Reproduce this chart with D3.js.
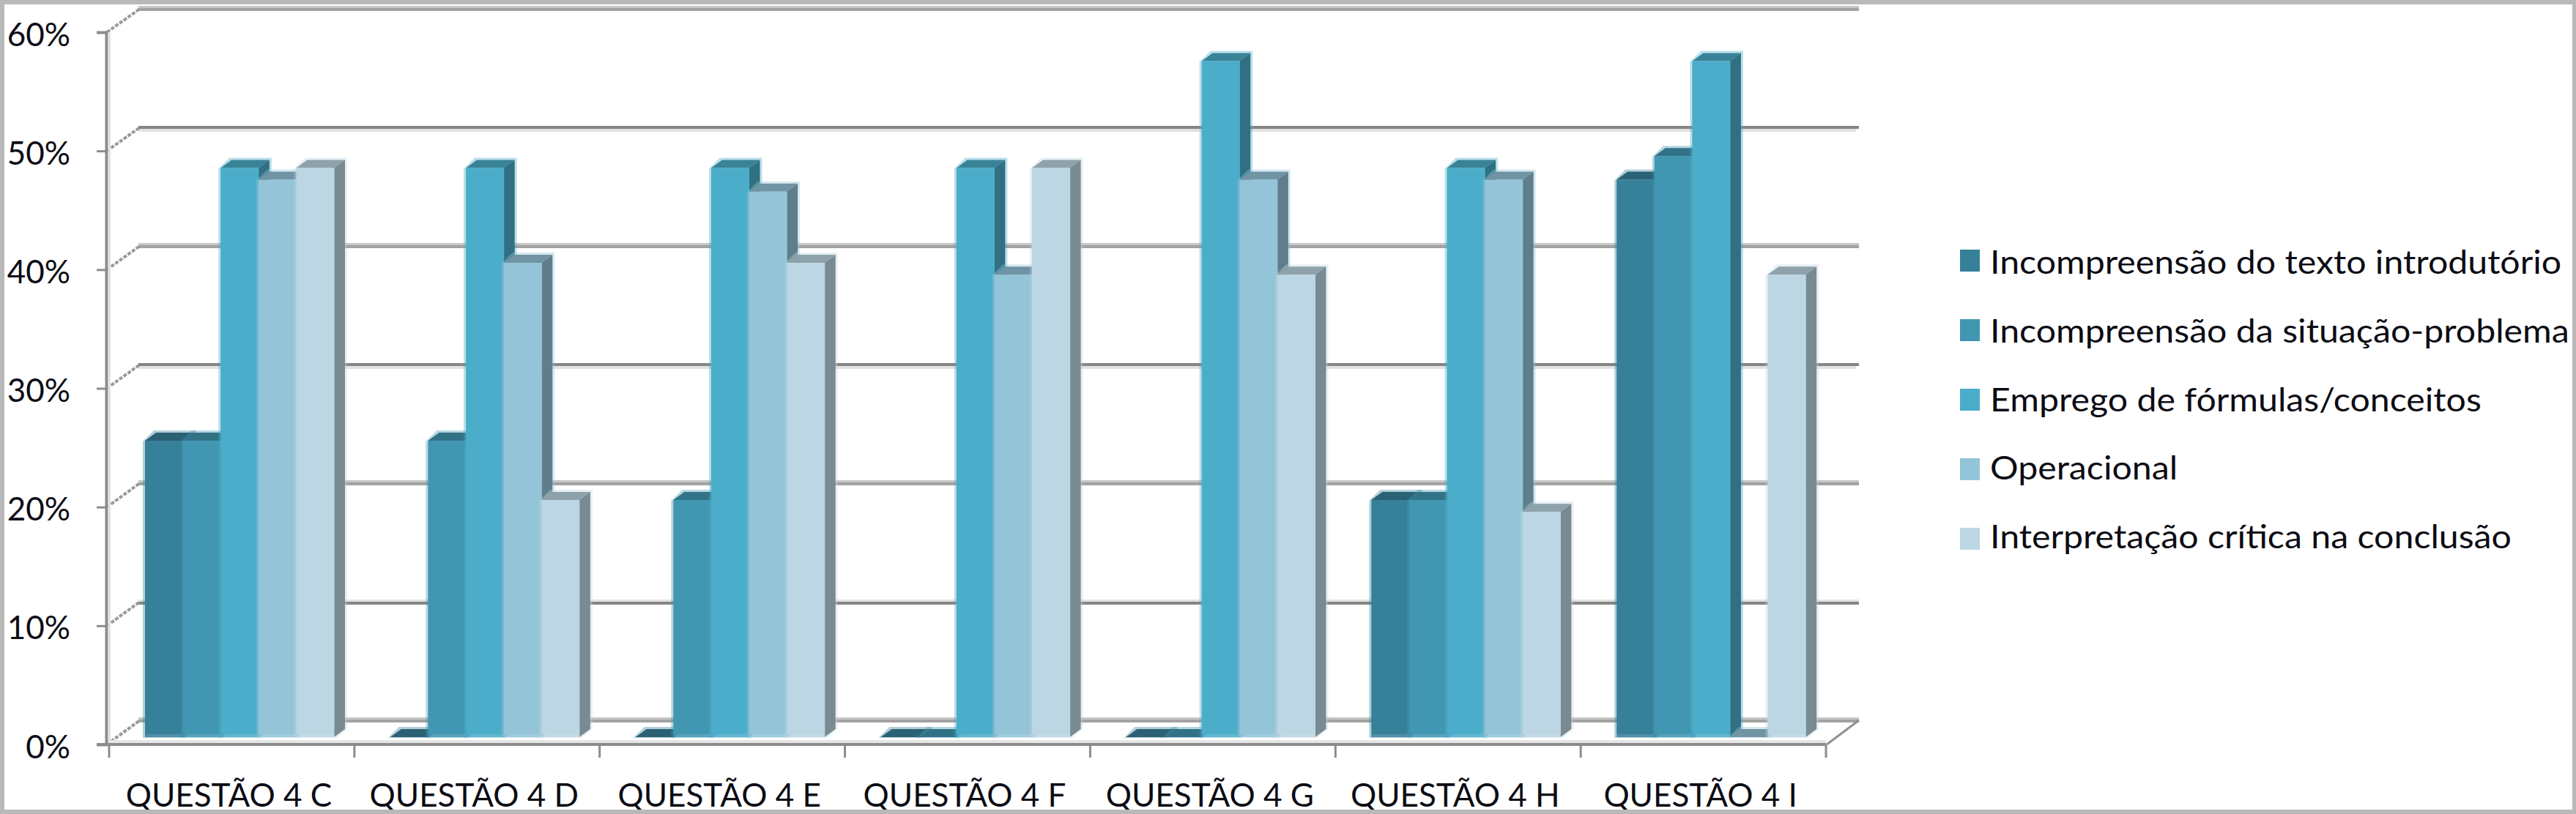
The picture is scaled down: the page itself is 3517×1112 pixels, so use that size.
<!DOCTYPE html>
<html><head><meta charset="utf-8">
<script src="https://cdn.jsdelivr.net/npm/d3@7/dist/d3.min.js"></script>
<style>html,body{margin:0;padding:0;background:#fff;overflow:hidden}svg{display:block}
text{font-family:Lato,"Open Sans",sans-serif;fill:#0c0c14}</style></head><body>
<svg id="c" width="3517" height="1112"></svg>
<script>
const categories = ["QUESTÃO 4 C","QUESTÃO 4 D","QUESTÃO 4 E","QUESTÃO 4 F","QUESTÃO 4 G","QUESTÃO 4 H","QUESTÃO 4 I"];
const seriesNames = ["Incompreensão do texto introdutório","Incompreensão da situação-problema","Emprego de fórmulas/conceitos","Operacional","Interpretação crítica na conclusão"];
const seriesColors = ["#37809a","#4197b2","#4badc9","#94c4d8","#bcd6e3"];
const s1 = [25,0,0,0,0,20,47];
const s2 = [25,25,20,0,0,20,49];
const s3 = [48,48,48,48,57,48,57];
const s4 = [47,40,46,39,47,47,0];
const s5 = [48,20,40,48,39,19,39];
const seriesValues = [s1,s2,s3,s4,s5];
const yTicks = [0,10,20,30,40,50,60];

const svg = d3.select("#c");
const W=3517,H=1112;
const frontX=[149,2493], frontY=[1017,44], backDx=45, backY=[984,12];
const yFront=d3.scaleLinear().domain([0,60]).range(frontY);
const yBack=d3.scaleLinear().domain([0,60]).range(backY);
const yBar=d3.scaleLinear().domain([0,60]).range([1007,35]);
const xCat=d3.scaleBand().domain(categories).range(frontX);
const barW=51.6, barOff=49, depthX=15, depthY=11, fringe=3;
const xSer=d3.scaleBand().domain(d3.range(5)).range([barOff,barOff+5*barW]);
const poly=(g,pts,fill,op)=>g.append("polygon").attr("points",pts.map(p=>p.join(",")).join(" ")).attr("fill",fill).attr("opacity",op==null?1:op);

// walls: grid lines on the back wall and the stippled side wall
const grid=svg.append("g");
yTicks.forEach(t=>{
  const y=yBack(t), x0=frontX[0]-4+backDx-1, x1=frontX[1]+backDx;
  if(t===10){
    grid.append("rect").attr("x",x0).attr("width",x1-x0).attr("y",y-3).attr("height",3).attr("fill","#e2e2e2");
    grid.append("rect").attr("x",x0).attr("width",x1-x0).attr("y",y).attr("height",4).attr("fill","#858585");
  } else if(t===30||t===50){
    grid.append("rect").attr("x",x0).attr("width",x1-x0).attr("y",y-2).attr("height",4).attr("fill","#858585");
    grid.append("rect").attr("x",x0).attr("width",x1-x0-4).attr("y",y+2).attr("height",4).attr("fill","#e2e2e2");
  } else {
    grid.append("rect").attr("x",x0).attr("width",x1-x0).attr("y",y-4).attr("height",3).attr("fill","#c6c6c6");
    grid.append("rect").attr("x",x0).attr("width",x1-x0).attr("y",y-1).attr("height",4).attr("fill","#a2a2a2");
  }
  grid.append("line").attr("x1",frontX[0]-3).attr("y1",yFront(t)).attr("x2",x0+2).attr("y2",y)
    .attr("stroke","#9a9a9a").attr("stroke-width",4).attr("stroke-dasharray","5 2");
});
// right floor edge
grid.append("line").attr("x1",frontX[1]+1).attr("y1",yFront(0)).attr("x2",frontX[1]+backDx).attr("y2",yBack(0)).attr("stroke","#8f8f8f").attr("stroke-width",3);

// floor front edge
svg.append("rect").attr("x",frontX[0]-2).attr("y",1011).attr("width",frontX[1]-frontX[0]+2).attr("height",5).attr("fill","#e6e6e6");

// bars
const bars=svg.append("g");
const mul=(c,k)=>{const o=d3.color(c);return d3.rgb(o.r*k,o.g*k,o.b*k).formatHex();};
categories.forEach((cat,ci)=>{
  seriesValues.forEach((vals,si)=>{
    const v=vals[ci], c=seriesColors[si];
    const x=xCat(cat)+xSer(si), x2=x+barW, y=yBar(v), y0=yBar(0);
    const g=bars.append("g");
    // soft fringes
    poly(g,[[x-fringe,y+1],[x-fringe+depthX,y-depthY-fringe],[x2+depthX+fringe,y-depthY-fringe],[x2+depthX+fringe,y0-depthY],[x2+fringe,y0+1],[x-fringe,y0+1]],c,0.38);
    // side and top faces
    poly(g,[[x2,y],[x2+depthX,y-depthY],[x2+depthX,y0-depthY],[x2,y0]],mul(c,0.645));
    poly(g,[[x,y],[x+depthX,y-depthY],[x2+depthX,y-depthY],[x2,y]],mul(c,0.755));
    if(v>0){
      g.append("rect").attr("x",x).attr("y",y).attr("width",barW+0.6).attr("height",y0-y-4).attr("fill",c);
      g.append("rect").attr("x",x).attr("y",y0-4).attr("width",barW+0.6).attr("height",4).attr("fill",c).attr("opacity",0.8);
    }
  });
});

// axes
const axY=svg.append("g").attr("transform",`translate(${frontX[0]-4},0)`)
  .call(d3.axisLeft(yFront).tickValues(yTicks).tickFormat(d=>d+"%").tickSize(13).tickPadding(36));
axY.select(".domain").attr("stroke","#8c8c8c").attr("stroke-width",4);
axY.selectAll("line").attr("stroke","#8c8c8c").attr("stroke-width",3);
axY.selectAll("text").attr("font-size",44).attr("dy","0.41em").style("font-family","Lato");
svg.append("rect").attr("x",frontX[0]-1.5).attr("y",frontY[1]).attr("width",3.5).attr("height",frontY[0]-frontY[1]-6).attr("fill","#e2e2e2");

const axX=svg.append("g").attr("transform",`translate(0,${frontY[0]})`)
  .call(d3.axisBottom(xCat).tickSize(0).tickPadding(54));
axX.select(".domain").attr("d",`M${frontX[0]-17},0H${frontX[1]}`).attr("stroke","#8c8c8c").attr("stroke-width",4);
axX.selectAll("text").attr("font-size",44).attr("dx",-4).style("font-family","Lato");
svg.append("g").selectAll("line").data([...categories.map(c=>xCat(c)),frontX[1]]).join("line")
  .attr("x1",d=>d).attr("x2",d=>d).attr("y1",frontY[0]).attr("y2",frontY[0]+18)
  .attr("stroke","#8c8c8c").attr("stroke-width",3);

// legend
const ySwatch=d3.scalePoint().domain(seriesNames).range([356,736]);
const yLegText=d3.scalePoint().domain(seriesNames).range([374,749]);
const leg=svg.append("g").selectAll("g").data(seriesNames).join("g");
leg.append("rect").attr("x",2676).attr("y",d=>ySwatch(d)-15).attr("width",27).attr("height",30).attr("fill",(d,i)=>seriesColors[i]);
leg.append("text").attr("transform",d=>`translate(2717,${yLegText(d)}) scale(1.097,1)`).attr("font-size",44).text(d=>d);

// frame
const f=svg.append("g").attr("fill","#b9b9b9");
f.append("rect").attr("width",W).attr("height",6);
f.append("rect").attr("y",1106).attr("width",W).attr("height",6);
f.append("rect").attr("width",6).attr("height",H);
f.append("rect").attr("x",3512).attr("width",5).attr("height",H);
</script></body></html>
